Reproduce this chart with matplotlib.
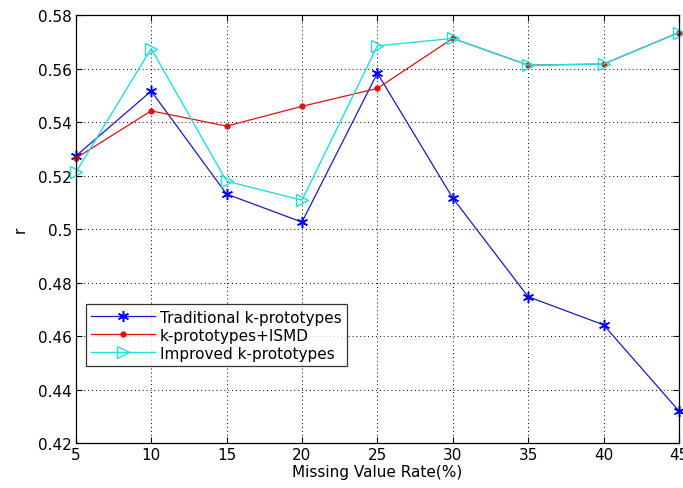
import matplotlib
matplotlib.use('Agg')
import matplotlib.pyplot as plt
from matplotlib.ticker import FixedLocator, FuncFormatter

# missing value rate (%) and r for each method
rates = [5, 10, 15, 20, 25, 30, 35, 40, 45]
traditional = [0.5273, 0.5516, 0.5131, 0.5026, 0.5583, 0.5116, 0.4747, 0.4642, 0.4320]
ismd = [0.5265, 0.5442, 0.5385, 0.5459, 0.5526, 0.5713, 0.5613, 0.5617, 0.5735]
improved = [0.5212, 0.5675, 0.5179, 0.5108, 0.5685, 0.5713, 0.5613, 0.5617, 0.5735]
y_ticks = [0.42, 0.44, 0.46, 0.48, 0.50, 0.52, 0.54, 0.56, 0.58]

plt.rcParams['font.family'] = ['DejaVu Sans']

fig = plt.figure(figsize=(6.83, 4.89), dpi=100)
ax = fig.add_axes([0.111, 0.092, 0.883, 0.875])

# asterisk marker like matlab's '*'
ax.plot(rates, traditional, color='#1a1ac0', marker=(6, 2, 0), markersize=8, linewidth=0.9,
        markeredgecolor='#0000ff', markeredgewidth=1.1, label='Traditional k-prototypes', clip_on=False)
ax.plot(rates, ismd, color='#e01010', marker='.', markersize=7, linewidth=0.9,
        label='k-prototypes+ISMD', clip_on=False)
ax.plot(rates, improved, color='#20e0e0', marker='>', markersize=9, linewidth=1.0,
        markerfacecolor='none', markeredgecolor='#20e0e0', label='Improved k-prototypes', clip_on=False)

ax.set_xlim(5, 45)
ax.set_ylim(0.42, 0.58)
ax.xaxis.set_major_locator(FixedLocator(rates))
ax.yaxis.set_major_locator(FixedLocator(y_ticks))
ax.yaxis.set_major_formatter(FuncFormatter(lambda v, p: '%g' % round(v, 2)))
ax.tick_params(direction='in', top=True, right=True, labelsize=11, length=4, pad=3)
ax.grid(True, color='black', linestyle=(0, (1, 3)), linewidth=0.7)
for s in ax.spines.values():
    s.set_linewidth(0.9)

ax.set_xlabel('Missing Value Rate(%)', fontsize=11, labelpad=1)
ax.set_ylabel('r', fontsize=11, labelpad=7)

leg = ax.legend(loc='lower left', bbox_to_anchor=(0.0166, 0.18), fontsize=11, handlelength=4.2,
                frameon=True, fancybox=False, borderpad=0.35, labelspacing=0.2, handletextpad=0.3,
                borderaxespad=0)
leg.get_frame().set_edgecolor('black')
leg.get_frame().set_linewidth(0.9)

fig.savefig('out.png', dpi=100)
